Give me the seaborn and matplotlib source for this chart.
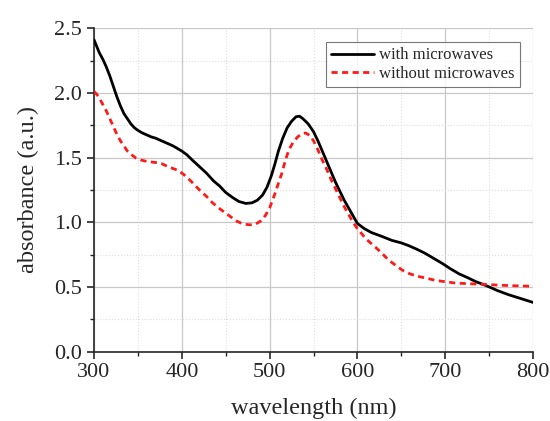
import numpy as np
import pandas as pd
import seaborn as sns
import matplotlib.pyplot as plt
from matplotlib.ticker import MultipleLocator

# Espectros
wl_com = [300, 303, 306, 310, 314, 318, 322, 326, 330, 334, 338, 342, 346, 350, 355, 360,
          365, 370, 375, 380, 385, 390, 395, 400, 406, 412, 420, 428, 436, 443, 450, 458,
          465, 473, 480, 486, 492, 497, 502, 506, 510, 515, 520, 525, 530, 534, 538, 544,
          550, 555, 560, 565, 570, 575, 580, 585, 590, 595, 600, 608, 616, 628, 639, 650,
          658, 668, 677, 687, 697, 706, 716, 726, 735, 743, 750, 760, 772, 786, 800]
abs_com = [2.41, 2.36, 2.31, 2.26, 2.20, 2.13, 2.05, 1.97, 1.90, 1.84, 1.80, 1.76, 1.73, 1.71,
           1.69, 1.675, 1.66, 1.65, 1.635, 1.62, 1.605, 1.59, 1.57, 1.55, 1.52, 1.48, 1.43,
           1.38, 1.32, 1.28, 1.23, 1.19, 1.16, 1.145, 1.15, 1.17, 1.21, 1.27, 1.36, 1.45, 1.55,
           1.65, 1.73, 1.78, 1.815, 1.82, 1.80, 1.76, 1.70, 1.63, 1.55, 1.47, 1.39, 1.31, 1.24,
           1.17, 1.11, 1.05, 0.99, 0.95, 0.92, 0.89, 0.86, 0.84, 0.82, 0.79, 0.76, 0.72, 0.68,
           0.64, 0.60, 0.57, 0.54, 0.52, 0.50, 0.47, 0.44, 0.41, 0.38]

wl_sem = [300, 303, 306, 310, 314, 318, 322, 326, 330, 334, 338, 343, 348, 354, 360, 366,
          372, 378, 384, 390, 396, 402, 410, 420, 428, 435, 442, 450, 456, 462, 470, 478,
          484, 490, 495, 500, 505, 510, 514, 518, 522, 527, 532, 537, 541, 546, 550, 555,
          560, 565, 570, 575, 580, 585, 590, 595, 600, 605, 610, 620, 628, 635, 643, 651,
          660, 670, 680, 689, 700, 711, 725, 742, 757, 772, 786, 800]
abs_sem = [2.01, 1.99, 1.96, 1.91, 1.86, 1.80, 1.74, 1.68, 1.63, 1.59, 1.55, 1.52, 1.495,
           1.48, 1.47, 1.465, 1.46, 1.45, 1.43, 1.415, 1.40, 1.37, 1.32, 1.25, 1.20, 1.15,
           1.11, 1.07, 1.04, 1.01, 0.985, 0.98, 0.985, 1.01, 1.05, 1.11, 1.20, 1.30, 1.38,
           1.48, 1.56, 1.62, 1.66, 1.685, 1.69, 1.67, 1.63, 1.56, 1.48, 1.41, 1.33, 1.26,
           1.19, 1.12, 1.06, 1.00, 0.95, 0.91, 0.87, 0.81, 0.76, 0.71, 0.67, 0.63, 0.60,
           0.58, 0.565, 0.55, 0.54, 0.53, 0.525, 0.52, 0.515, 0.51, 0.507, 0.505]

df = pd.concat([
    pd.DataFrame({'wl': wl_com, 'abs': abs_com, 'amostra': 'with microwaves'}),
    pd.DataFrame({'wl': wl_sem, 'abs': abs_sem, 'amostra': 'without microwaves'}),
])

sns.set_style('ticks')
plt.rcParams['font.family'] = ['Liberation Serif', 'DejaVu Serif']

fig = plt.figure(figsize=(5.5, 4.21), dpi=100)
ax = fig.add_axes([0.171, 0.165, 0.798, 0.768])

sns.lineplot(data=df, x='wl', y='abs', hue='amostra', style='amostra',
             palette={'with microwaves': 'black', 'without microwaves': '#ff1a1a'},
             dashes={'with microwaves': '', 'without microwaves': (2.2, 1.6)},
             linewidth=2, ax=ax, sort=False, zorder=3)

ax.set_xlim(300, 800)
ax.set_ylim(0, 2.5)
ax.xaxis.set_major_locator(MultipleLocator(100))
ax.xaxis.set_minor_locator(MultipleLocator(50))
ax.yaxis.set_major_locator(MultipleLocator(0.5))
ax.yaxis.set_minor_locator(MultipleLocator(0.25))
ax.yaxis.set_major_formatter(plt.FormatStrFormatter('%.1f'))

ax.grid(which='major', color='#c8c8c8', linewidth=0.9)
ax.grid(which='minor', color='#dddddd', linestyle=':', linewidth=0.8)
ax.set_axisbelow(True)

sns.despine(ax=ax)
ax.spines['left'].set_linewidth(1.2)
ax.spines['bottom'].set_linewidth(1.2)
ax.tick_params(which='major', direction='out', length=5, width=1.2, labelsize=16)
ax.tick_params(which='minor', direction='out', length=3, width=1.0)

ax.set_xlabel('wavelength (nm)', fontsize=17.5, labelpad=11)
ax.set_ylabel('absorbance (a.u.)', fontsize=17.5, labelpad=11)

leg = ax.legend(title=None, loc='upper right', bbox_to_anchor=(0.970, 0.956),
                fontsize=12, frameon=True, fancybox=False, handlelength=2.6,
                handletextpad=0.3, borderpad=0.3, labelspacing=0.15,
                borderaxespad=0)
leg.get_frame().set_edgecolor('#555555')
leg.get_frame().set_linewidth(0.8)

fig.savefig('out.png', dpi=100)
